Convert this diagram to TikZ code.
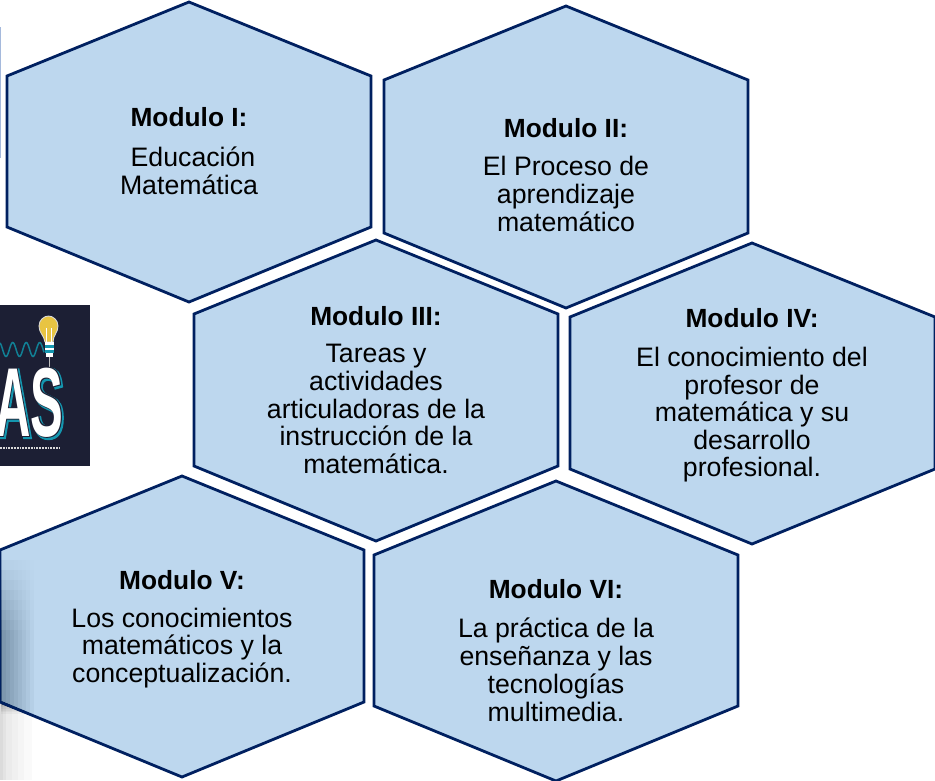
\documentclass[tikz,border=0pt]{standalone}
\usepackage{fontspec}
\setmainfont{Liberation Sans}
\newfontfamily\logofat[BoldFeatures={FakeBold=3.5}]{Liberation Sans}
\newfontfamily\logomid[BoldFeatures={FakeBold=1.8}]{Liberation Sans}
\definecolor{hexline}{RGB}{0,32,96}
\definecolor{hexfill}{RGB}{189,215,238}
\definecolor{logobg}{RGB}{28,31,52}
\definecolor{logoteal}{RGB}{20,150,175}
\definecolor{bulb}{RGB}{232,196,66}
\definecolor{edgeblue}{RGB}{165,185,220}
\tikzset{
  hexa/.style={draw=hexline,fill=hexfill,line width=2.8pt,line join=miter},
  modtitle/.style={font=\fontsize{26.3}{28}\selectfont\bfseries,inner sep=0pt,align=center},
  modbody/.style={font=\fontsize{26.7}{27.9}\selectfont,inner sep=0pt,align=center},
  logotext/.style={font=\fontsize{98}{98}\selectfont\bfseries,inner sep=0pt,anchor=base east,xscale=.5}
}
\newcommand{\hexagonat}[6]{%
  \draw[hexa] (#2,#4) -- (#1,#5) -- (#1,#6) -- (#2,#6+75) -- (#3,#6) -- (#3,#5) -- cycle;}
\begin{document}
\begin{tikzpicture}[x=1pt,y=-1pt]
\useasboundingbox (0,0) rectangle (935,780);
\fill[white] (0,0) rectangle (935,780);
% left margin remnants
\fill[edgeblue] (0,27) rectangle (1.2,158);
\foreach \w/\g in {32/2,24/2,18/2,12/2,6/3,3/3}{
  \fill[black,opacity=.0\g] (0,690) rectangle (\w,780);
}
% logo
\begin{scope}
\clip (0,305) rectangle (90,466);
\fill[logobg] (0,305) rectangle (90,466);
\draw[logoteal!85!black,line width=1.5pt] plot[smooth,samples=70,domain=0:44] (\x,{349.5+7*cos(deg((\x-6)*0.4654))});
\draw[white!75!black,line width=1pt] (49,355) -- (49,370);
\fill[bulb,draw=white!85!black,line width=.9pt] (45,342) .. controls (44,335) and (39,333) .. (39,326) .. controls (39,320) and (44,316) .. (48.5,316) .. controls (53,316) and (58,320) .. (58,326) .. controls (58,333) and (53,335) .. (53,342) -- cycle;
\draw[white,line width=.7pt] (46.5,343) -- (46.5,328) (51,343) -- (51,328);
\fill[white] (45,342) rectangle (53.5,345);
\fill[logoteal] (45,345) rectangle (53.5,348);
\fill[white] (45,348) rectangle (53.5,350);
\fill[logoteal] (45,350) rectangle (53.5,353);
\fill[white] (46,353) rectangle (52.5,357);
\node[logotext,text=white] (logomark) at (63.5,436) {%
  \makebox[0pt][l]{\smash{\raisebox{-1.5pt}{\hspace{3pt}\logofat\color{logoteal}AS}}}%
  \makebox[0pt][l]{\smash{\logomid\color{logobg}AS}}%
  AS};
\draw[white!85!black,line width=1.8pt,dash pattern=on 1.8pt off 1pt] (0,448) -- (60,448);
\end{scope}
% hexagons
\hexagonat{7}{189}{371}{2}{76}{227}
\hexagonat{384}{566}{748}{6}{80}{233}
\hexagonat{194}{376}{558}{240}{314}{466}
\hexagonat{570}{752}{935}{243}{317}{469}
\hexagonat{0}{182}{364}{476}{550}{702}
\hexagonat{374}{556}{738}{481}{555}{706}
% shading of the left margin over hexagon V, fading in from above
\foreach \w in {34,30,26,22,18,14,10,6}{
  \foreach \t in {560,570,580,590,600,610,620,630}{
    \fill[hexline,opacity=.0035] (1.4,\t) rectangle (\w,{700+\w*.41});
  }
}
% texts
\node[modtitle] (t1) at (189,117) {Modulo I:};
\node[modbody] (b1) at (189,171) {\hspace*{8pt}Educación\\Matemática};
\node[modtitle] (t2) at (566,128) {Modulo II:};
\node[modbody] (b2) at (566,194) {El Proceso de\\aprendizaje\\matemático};
\node[modtitle] (t3) at (376,316) {Modulo III:};
\node[modbody] (b3) at (376,409) {Tareas y\\actividades\\articuladoras de la\\instrucción de la\\matemática.};
\node[modtitle] (t4) at (752,318) {Modulo IV:};
\node[modbody,font=\fontsize{26.7}{27.5}\selectfont] (b4) at (752,415) {El conocimiento del\\profesor de\\matemática y su\\desarrollo\\profesional.};
\node[modtitle] (t5) at (182,580) {Modulo V:};
\node[modbody] (b5) at (182,648) {Los conocimientos\\matemáticos y la\\conceptualización.};
\node[modtitle] (t6) at (556,589) {Modulo VI:};
\node[modbody] (b6) at (556,670) {La práctica de la\\enseñanza y las\\tecnologías\\multimedia.};
\end{tikzpicture}
\end{document}
